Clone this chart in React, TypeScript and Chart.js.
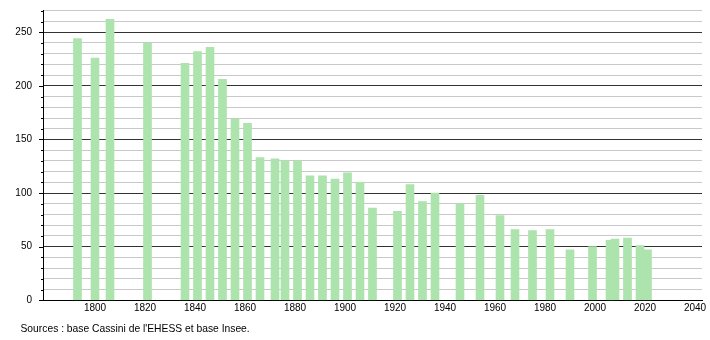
import React, { useEffect, useRef } from "react";
import { Chart, registerables } from "chart.js";

Chart.register(...registerables);

const years: number[] = [1793, 1800, 1806, 1821, 1836, 1841, 1846, 1851, 1856, 1861, 1866, 1872, 1876, 1881, 1886, 1891, 1896, 1901, 1906, 1911, 1921, 1926, 1931, 1936, 1946, 1954, 1962, 1968, 1975, 1982, 1990, 1999, 2006, 2008, 2013, 2018, 2021];
const population: number[] = [244, 226, 262, 240, 221, 232, 236, 206, 169, 165, 133, 132, 130, 130, 116, 116, 113, 119, 110, 86, 83, 108, 92, 100, 90, 98, 79, 66, 65, 66, 47, 50, 56, 57, 58, 51, 47];
const xTickLabels: number[] = [1800, 1820, 1840, 1860, 1880, 1900, 1920, 1940, 1960, 1980, 2000, 2020, 2040];
const yTickValues: number[] = [0, 10, 20, 30, 40, 50, 60, 70, 80, 90, 100, 110, 120, 130, 140, 150, 160, 170, 180, 190, 200, 210, 220, 230, 240, 250, 260, 270];
const sourceText = "Sources : base Cassini de l'EHESS et base Insee.";

const FONT = "'Liberation Sans', Arial, sans-serif";

const extrasPlugin = {
  id: "extras",
  afterDraw(chart: any) {
    const ctx = chart.ctx;
    const y = chart.scales.y;
    ctx.save();
    ctx.strokeStyle = "#000";
    ctx.lineWidth = 1;
    for (const v of yTickValues) {
      const py = Math.round(y.getPixelForValue(v)) + 0.5;
      const len = v % 50 === 0 ? 4 : 2;
      ctx.beginPath();
      ctx.moveTo(y.right - len, py);
      ctx.lineTo(y.right, py);
      ctx.stroke();
    }
    ctx.fillStyle = "#000";
    ctx.font = `10.3px ${FONT}`;
    ctx.textAlign = "left";
    ctx.textBaseline = "middle";
    ctx.fillText(sourceText, 20.5, 329);
    ctx.restore();
  },
};

export default function App() {
  const ref = useRef<HTMLCanvasElement | null>(null);
  useEffect(() => {
    if (!ref.current) return;
    const chart = new Chart(ref.current, {
      type: "bar",
      data: {
        datasets: [
          {
            data: years.map((yr, i) => ({ x: yr, y: population[i] })),
            backgroundColor: "#ade3ad",
            borderWidth: 0,
            barThickness: 8,
          },
        ],
      },
      options: {
        animation: false,
        responsive: false,
        devicePixelRatio: 1,
        layout: { padding: { top: 10.8, right: 8, left: 0, bottom: 0 } },
        plugins: { legend: { display: false }, tooltip: { enabled: false } },
        scales: {
          x: {
            type: "linear",
            min: 1779.2,
            max: 2042.8,
            offset: false,
            afterBuildTicks: (s: any) => {
              s.ticks = xTickLabels.map((v) => ({ value: v }));
            },
            afterFit: (s: any) => {
              s.height = 39.7;
              s.paddingLeft = 0;
              s.paddingRight = 0;
            },
            grid: { display: false, drawTicks: false },
            border: { display: true, color: "#000", width: 1 },
            ticks: {
              font: { size: 10, family: FONT },
              color: "#000",
              padding: 2,
              maxRotation: 0,
              autoSkip: false,
              callback: (v: any) => String(v),
            },
          },
          y: {
            type: "linear",
            min: 0,
            max: 270,
            afterBuildTicks: (s: any) => {
              s.ticks = yTickValues.map((v) => ({ value: v }));
            },
            afterFit: (s: any) => {
              s.width = 43;
              s.paddingTop = 0;
              s.paddingBottom = 0;
            },
            grid: {
              drawTicks: false,
              color: (c: any) => (c.tick && c.tick.value % 50 === 0 ? "#333" : "#c8c8c8"),
              lineWidth: 1,
            },
            border: { display: true, color: "#000", width: 1 },
            ticks: {
              font: { size: 10, family: FONT },
              color: "#000",
              padding: 11,
              autoSkip: false,
              callback: (v: any) => (Number(v) % 50 === 0 ? String(v) : ""),
            },
          },
        },
      },
      plugins: [extrasPlugin],
    });
    return () => chart.destroy();
  }, []);
  return (
    <div style={{ position: "fixed", left: 0, top: 0, width: 710, height: 340, background: "#fff" }}>
      <canvas ref={ref} width={710} height={340} style={{ display: "block" }} />
    </div>
  );
}
